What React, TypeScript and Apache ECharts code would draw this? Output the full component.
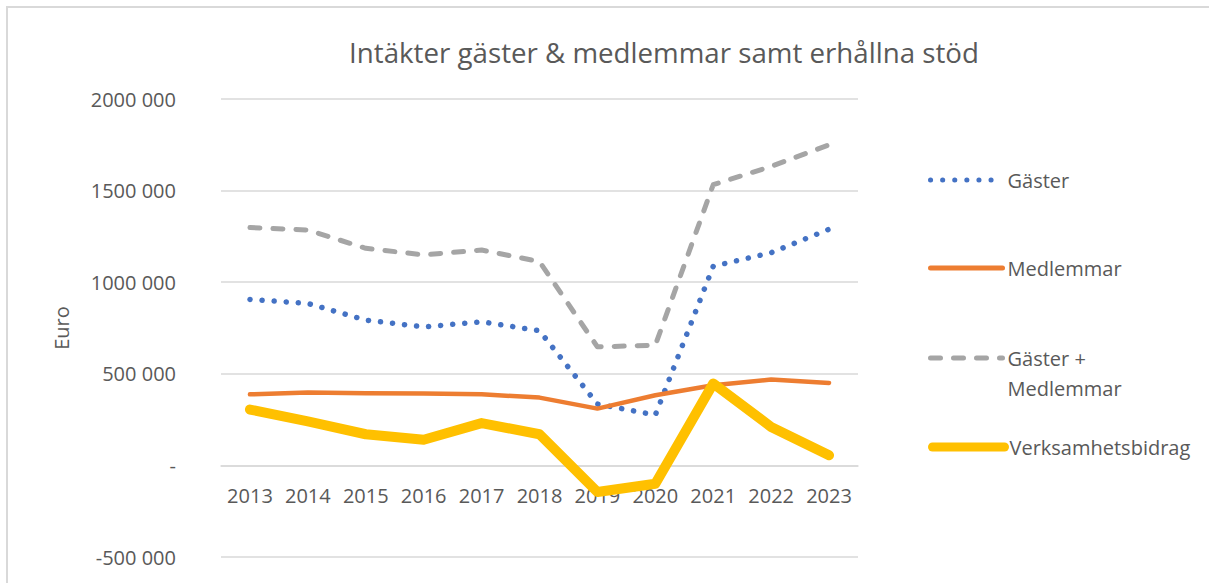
import React, { useEffect, useRef } from "react";
import * as echarts from "echarts";

const years = ["2013", "2014", "2015", "2016", "2017", "2018", "2019", "2020", "2021", "2022", "2023"];
const gaster = [906000, 884000, 793000, 756000, 784000, 735000, 335000, 275000, 1087000, 1161000, 1289000];
const medlemmar = [388000, 398000, 394000, 392000, 388000, 370000, 310000, 383000, 437000, 469000, 450000];
const gasterMedlemmar = [1298000, 1285000, 1185000, 1149000, 1176000, 1112000, 647000, 656000, 1532000, 1632000, 1750000];
const verksamhetsbidrag = [305000, 240000, 170000, 140000, 231000, 170000, -145000, -100000, 447000, 210000, 55000];

const Y_MIN = -500000;
const Y_MAX = 2000000;
const Y_STEP = 500000;

const FONT = "'Open Sans', sans-serif";
const TXT = "#595959";

function fmtY(v: number): string {
  if (v === 0) return "-";
  const k = v / 1000;
  return `${k} 000`;
}

export default function App() {
  const ref = useRef<HTMLDivElement>(null);
  useEffect(() => {
    if (!ref.current) return;
    const chart = echarts.init(ref.current, null, { renderer: "svg" });
    const gridTop = 99;
    const gridBottom = 26;
    const gridH = 583 - gridTop - gridBottom;
    const zeroFromBottom = (gridH * (0 - Y_MIN)) / (Y_MAX - Y_MIN);
    const legendBase = {
      orient: "vertical" as const,
      left: 928,
      padding: 0,
      itemWidth: 72,
      itemHeight: 4,
      itemGap: 0,
      itemStyle: { opacity: 0 },
      textStyle: { fontFamily: FONT, fontSize: 20, color: TXT, lineHeight: 30 },
    };
    chart.setOption({
      animation: false,
      backgroundColor: "#ffffff",
      title: {
        text: "Intäkter gäster & medlemmar samt erhållna stöd",
        left: 659,
        textAlign: "center",
        top: 33,
        textStyle: { fontFamily: FONT, fontSize: 27.7, fontWeight: "normal", color: TXT },
      },
      legend: [
        { ...legendBase, top: 165, data: ["Gäster"], lineStyle: { width: 5 } },
        { ...legendBase, top: 253, data: ["Medlemmar"], lineStyle: { width: 5 } },
        {
          ...legendBase,
          top: 313,
          data: ["Gäster + Medlemmar"],
          lineStyle: { width: 5 },
          formatter: () => " \nGäster +\nMedlemmar",
        },
        { ...legendBase, top: 432, data: ["Verksamhetsbidrag"], lineStyle: { width: 9 } },
      ],
      grid: { left: 221, right: 351, top: gridTop, bottom: gridBottom, outerBoundsMode: "none", containLabel: false },
      xAxis: {
        type: "category",
        data: years,
        boundaryGap: true,
        position: "bottom",
        offset: -zeroFromBottom,
        axisLine: { show: true, onZero: false, lineStyle: { color: "#D9D9D9", width: 1.5 } },
        axisTick: { show: false },
        axisLabel: { fontFamily: FONT, fontSize: 20, color: TXT, margin: 20, interval: 0 },
      },
      yAxis: {
        type: "value",
        min: Y_MIN,
        max: Y_MAX,
        interval: Y_STEP,
        name: "Euro",
        nameLocation: "middle",
        nameRotate: 90,
        nameGap: 150,
        nameTextStyle: { fontFamily: FONT, fontSize: 20, color: TXT },
        axisLine: { show: false },
        axisTick: { show: false },
        splitLine: { lineStyle: { color: "#D9D9D9", width: 1.5 } },
        axisLabel: { fontFamily: FONT, fontSize: 20, color: TXT, margin: 45, formatter: fmtY },
      },
      series: [
        {
          name: "Gäster",
          type: "line",
          data: gaster,
          symbol: "none",
          color: "#4472C4",
          lineStyle: { color: "#4472C4", width: 5.5, type: [0.1, 12], cap: "round" },
        },
        {
          name: "Medlemmar",
          type: "line",
          data: medlemmar,
          symbol: "none",
          color: "#ED7D31",
          lineStyle: { color: "#ED7D31", width: 4.5, cap: "round", join: "round" },
        },
        {
          name: "Gäster + Medlemmar",
          type: "line",
          data: gasterMedlemmar,
          symbol: "none",
          color: "#A5A5A5",
          lineStyle: { color: "#A5A5A5", width: 5, type: [10, 13], cap: "round", join: "round" },
        },
        {
          name: "Verksamhetsbidrag",
          type: "line",
          data: verksamhetsbidrag,
          symbol: "none",
          color: "#FFC000",
          lineStyle: { color: "#FFC000", width: 10, cap: "round", join: "round" },
        },
      ],
    });
    return () => chart.dispose();
  }, []);

  return (
    <div style={{ position: "fixed", left: 0, top: 0, width: 1209, height: 583, overflow: "hidden", background: "#fff" }}>
      <div ref={ref} style={{ position: "absolute", left: 0, top: 0, width: 1209, height: 583 }} />
      <div
        style={{
          position: "absolute",
          left: 6,
          top: 6,
          width: 1300,
          height: 700,
          border: "2px solid #D9D9D9",
          pointerEvents: "none",
        }}
      />
    </div>
  );
}
